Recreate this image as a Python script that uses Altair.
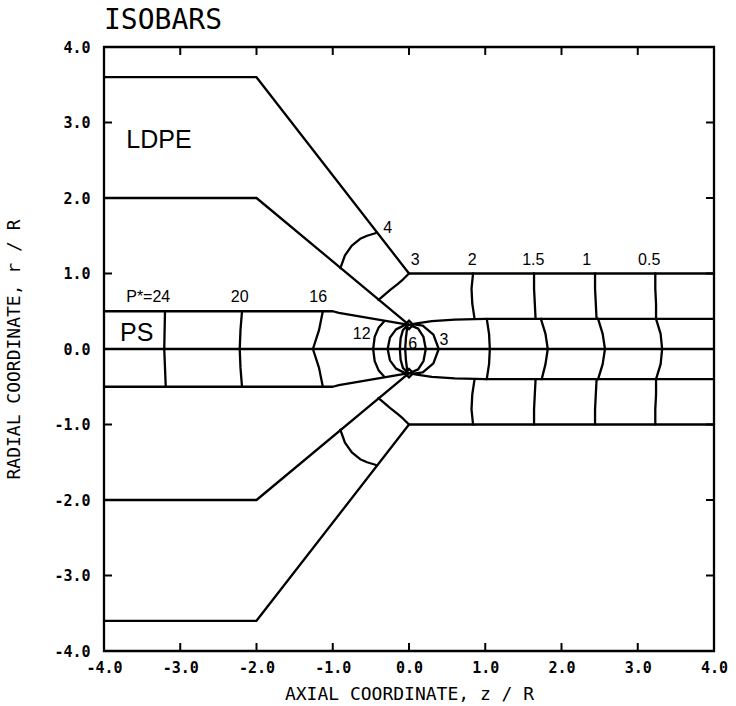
import altair as alt
import pandas as pd

# ---------------- data ----------------
# die walls (upper half; lower half is the mirror image)
outer_wall_x = [-4.0, -2.0, 0.0, 4.0]
outer_wall_y = [3.6, 3.6, 1.0, 1.0]
ldpe_inner_x = [-4.0, -2.0, 0.0]
ldpe_inner_y = [2.0, 2.0, 0.32]
ps_wall_x = [-4.0, -1.0, -0.92, 0.0]
ps_wall_y = [0.5, 0.5, 0.48, 0.32]
interface_x = [0.0, 0.1, 0.3, 0.6, 1.0, 1.5, 4.0]
interface_y = [0.32, 0.34, 0.37, 0.39, 0.40, 0.40, 0.40]
center_x = [-4.0, 4.0]
center_y = [0.0, 0.0]

# isobars in the PS core upstream (full height -0.5 .. 0.5)
iso24_x = [-3.20, -3.21, -3.19]
iso24_y = [0.5, 0.0, -0.5]
iso20_x = [-2.19, -2.21, -2.22, -2.21, -2.19]
iso20_y = [0.5, 0.25, 0.0, -0.25, -0.5]
iso16_x = [-1.13, -1.18, -1.26, -1.18, -1.13]
iso16_y = [0.5, 0.25, 0.0, -0.25, -0.5]

# isobars near the merging point
iso12_x = [-0.33, -0.40, -0.45, -0.47, -0.45, -0.40, -0.33]
iso12_y = [0.36, 0.28, 0.16, 0.0, -0.16, -0.28, -0.36]
iso10_x = [-0.07, -0.17, -0.25, -0.28, -0.25, -0.17, -0.07]
iso10_y = [0.31, 0.26, 0.15, 0.0, -0.15, -0.26, -0.31]
iso8_x = [-0.02, -0.08, -0.11, -0.12, -0.11, -0.08, -0.02]
iso8_y = [0.31, 0.25, 0.14, 0.0, -0.14, -0.25, -0.31]
iso6_x = [-0.02, -0.04, -0.05, -0.04, -0.02]
iso6_y = [0.31, 0.15, 0.0, -0.15, -0.31]
iso4c_x = [0.03, 0.12, 0.19, 0.22, 0.19, 0.12, 0.03]
iso4c_y = [0.31, 0.27, 0.16, 0.0, -0.16, -0.27, -0.31]
iso3c_x = [0.04, 0.18, 0.32, 0.39, 0.32, 0.18, 0.04]
iso3c_y = [0.33, 0.31, 0.19, 0.0, -0.19, -0.31, -0.33]

# isobars in the PS core downstream (between the interfaces)
core_y = [0.40, 0.20, 0.0, -0.20, -0.40]
core2_x = [1.02, 1.05, 1.06, 1.05, 1.02]
core15_x = [1.73, 1.79, 1.82, 1.79, 1.74]
core1_x = [2.48, 2.54, 2.57, 2.54, 2.48]
core05_x = [3.24, 3.30, 3.32, 3.30, 3.24]

# isobars in the LDPE layer downstream (upper half, wall to interface)
skin_y = [1.0, 0.8, 0.6, 0.4]
skin2_x = [0.84, 0.82, 0.83, 0.86]
skin15_x = [1.64, 1.64, 1.65, 1.66]
skin1_x = [2.44, 2.44, 2.45, 2.46]
skin05_x = [3.23, 3.23, 3.24, 3.24]

# isobars in the LDPE feed channel (upper half)
feed4_x = [-0.42, -0.55, -0.64, -0.75, -0.84, -0.90]
feed4_y = [1.54, 1.50, 1.46, 1.37, 1.24, 1.07]
feed3_x = [0.0, -0.08, -0.15, -0.25, -0.33, -0.40]
feed3_y = [1.0, 0.92, 0.86, 0.78, 0.71, 0.65]

# small closed contours at the merging corners
corner_x = [0.0, 0.0]
corner_y = [0.32, -0.32]

# contour labels
lab_text = ["4", "3", "2", "1.5", "1", "0.5", "12", "6", "3", "20", "16", "P*=24"]
lab_x = [-0.28, 0.08, 0.83, 1.63, 2.33, 3.15, -0.62, 0.05, 0.46, -2.22, -1.19, -3.42]
lab_y = [1.60, 1.18, 1.18, 1.18, 1.18, 1.18, 0.20, 0.07, 0.12, 0.69, 0.69, 0.69]
region_text = ["LDPE", "PS"]
region_x = [-3.28, -3.57]
region_y = [2.77, 0.21]
title_text = ["ISOBARS"]
title_x = [-4.0]
title_y = [4.0]

tick_vals = [-3, -2, -1, 0, 1, 2, 3]
axis_vals = [-4, -3, -2, -1, 0, 1, 2, 3, 4]
frame_x = [-4.0]
frame_x2 = [4.0]
frame_y = [-4.0]
frame_y2 = [4.0]

# ---------------- build tables ----------------
rows = []


def add(name, xs, ys):
    for i, (a, b) in enumerate(zip(xs, ys)):
        rows.append({"seg": name, "ord": i, "x": a, "y": b})


def mirror(ys):
    return [-v for v in ys]


for nm, xs, ys in [
    ("outer", outer_wall_x, outer_wall_y),
    ("ldpe", ldpe_inner_x, ldpe_inner_y),
    ("ps", ps_wall_x, ps_wall_y),
    ("iface", interface_x, interface_y),
    ("feed4", feed4_x, feed4_y),
    ("feed3", feed3_x, feed3_y),
    ("skin2", skin2_x, skin_y),
    ("skin15", skin15_x, skin_y),
    ("skin1", skin1_x, skin_y),
    ("skin05", skin05_x, skin_y),
]:
    add(nm + "_u", xs, ys)
    add(nm + "_l", xs, mirror(ys))

for nm, xs, ys in [
    ("center", center_x, center_y),
    ("iso24", iso24_x, iso24_y),
    ("iso20", iso20_x, iso20_y),
    ("iso16", iso16_x, iso16_y),
    ("iso12", iso12_x, iso12_y),
    ("iso10", iso10_x, iso10_y),
    ("iso8", iso8_x, iso8_y),
    ("iso6", iso6_x, iso6_y),
    ("iso4c", iso4c_x, iso4c_y),
    ("iso3c", iso3c_x, iso3c_y),
    ("core2", core2_x, core_y),
    ("core15", core15_x, core_y),
    ("core1", core1_x, core_y),
    ("core05", core05_x, core_y),
]:
    add(nm, xs, ys)

lines_df = pd.DataFrame(rows)
labels_df = pd.DataFrame({"t": lab_text, "x": lab_x, "y": lab_y})
region_df = pd.DataFrame({"t": region_text, "x": region_x, "y": region_y})
title_df = pd.DataFrame({"t": title_text, "x": title_x, "y": title_y})
corner_df = pd.DataFrame({"x": corner_x, "y": corner_y})
frame_df = pd.DataFrame({"x": frame_x, "x2": frame_x2, "y": frame_y, "y2": frame_y2})

tick_rows = []
for v in tick_vals:
    tick_rows.append({"side": "bottom", "x": v, "y": -4})
    tick_rows.append({"side": "top", "x": v, "y": 4})
    tick_rows.append({"side": "left", "x": -4, "y": v})
    tick_rows.append({"side": "right", "x": 4, "y": v})
ticks_df = pd.DataFrame(tick_rows)

# ---------------- chart ----------------
label_expr = "replace(format(datum.value, '.1f'), '\u2212', '-')"
xscale = alt.Scale(domain=[-4, 4], nice=False, zero=False)
yscale = alt.Scale(domain=[-4, 4], nice=False, zero=False)

xenc = alt.X(
    "x:Q",
    scale=xscale,
    axis=alt.Axis(
        values=axis_vals,
        labelExpr=label_expr,
        title="AXIAL COORDINATE,  z / R",
        ticks=False,
        domain=False,
        grid=False,
        labelFlush=False,
        labelPadding=9,
        labelFont="DejaVu Sans Mono",
        labelFontWeight="bold",
        labelFontSize=15,
        labelColor="black",
        titleFont="DejaVu Sans Mono",
        titleFontWeight="normal",
        titleFontSize=18,
        titleColor="black",
        titlePadding=10,
    ),
)
yenc = alt.Y(
    "y:Q",
    scale=yscale,
    axis=alt.Axis(
        values=axis_vals,
        labelExpr=label_expr,
        title="RADIAL COORDINATE,  r / R",
        ticks=False,
        domain=False,
        grid=False,
        labelFlush=False,
        labelPadding=14,
        labelFont="DejaVu Sans Mono",
        labelFontWeight="bold",
        labelFontSize=15,
        labelColor="black",
        titleFont="DejaVu Sans Mono",
        titleFontWeight="normal",
        titleFontSize=18,
        titleColor="black",
        titlePadding=30,
    ),
)

XQ = alt.X("x:Q", scale=xscale)
YQ = alt.Y("y:Q", scale=yscale)

lines = alt.Chart(lines_df).mark_line(
    color="black", strokeWidth=2.3, strokeJoin="round", strokeCap="round"
).encode(x=xenc, y=yenc, detail="seg:N", order="ord:Q")

frame = alt.Chart(frame_df).mark_rect(
    fill=None, fillOpacity=0, stroke="black", strokeWidth=2.3
).encode(x=XQ, x2="x2:Q", y=YQ, y2="y2:Q")

corners = alt.Chart(corner_df).mark_point(
    shape="diamond", size=70, filled=False, color="black", strokeWidth=2.3, opacity=1
).encode(x=XQ, y=YQ)

labels = alt.Chart(labels_df).mark_text(
    font="Liberation Sans", fontSize=16, color="black", baseline="middle", align="center"
).encode(x=XQ, y=YQ, text="t:N")

regions = alt.Chart(region_df).mark_text(
    font="Liberation Sans", fontSize=25, color="black", baseline="middle", align="center"
).encode(x=XQ, y=YQ, text="t:N")

title = alt.Chart(title_df).mark_text(
    font="DejaVu Sans Mono", fontSize=28, color="black", baseline="alphabetic", align="left", dy=-18
).encode(x=XQ, y=YQ, text="t:N")


def tick_layer(side, orient, dx, dy):
    kw = {}
    if dx:
        kw["xOffset"] = dx
    if dy:
        kw["yOffset"] = dy
    return alt.Chart(ticks_df).transform_filter(
        alt.datum.side == side
    ).mark_tick(orient=orient, size=8, thickness=2, color="black", opacity=1, **kw).encode(
        x=XQ, y=YQ
    )


ticks = [
    tick_layer("bottom", "vertical", 0, -4),
    tick_layer("top", "vertical", 0, 4),
    tick_layer("left", "horizontal", 4, 0),
    tick_layer("right", "horizontal", -4, 0),
]

chart = alt.layer(lines, frame, corners, labels, regions, title, *ticks).properties(
    width=610,
    height=604,
    padding={"left": 104, "top": 47, "right": 22, "bottom": 55},
    autosize=alt.AutoSizeParams(type="none"),
).configure_view(stroke=None).configure(background="white")

chart.save("out.html", embed_options={"renderer": "svg", "actions": False})
